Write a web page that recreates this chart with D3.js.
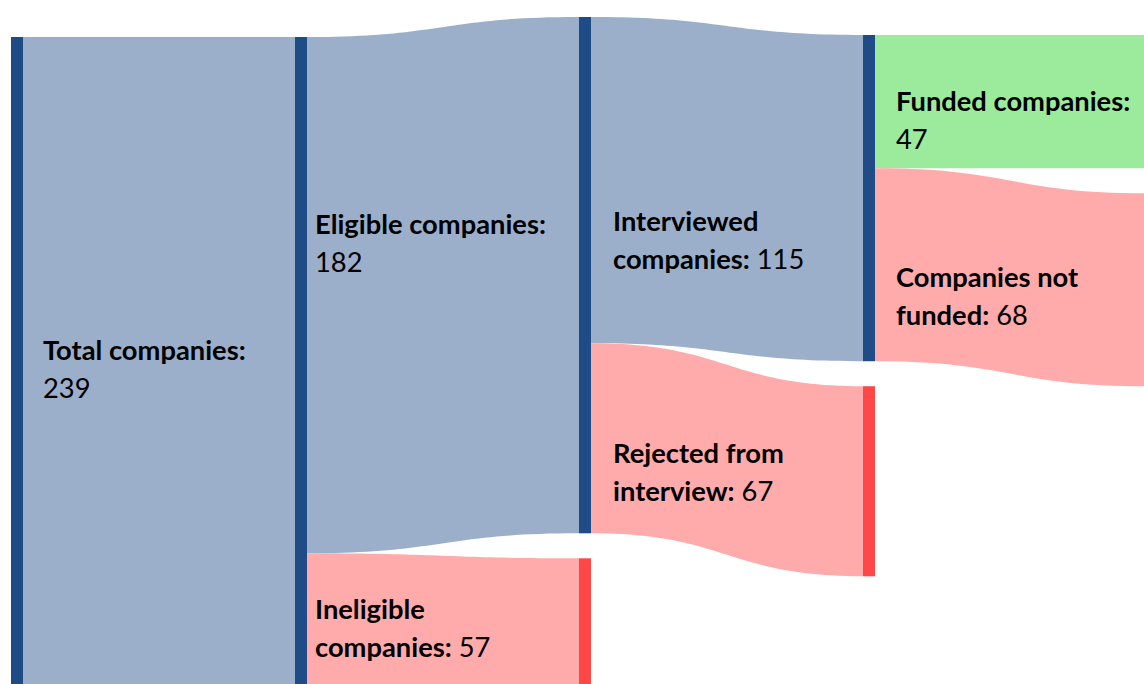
<!DOCTYPE html>
<html>
<head>
<meta charset="utf-8">
<script src="https://cdn.jsdelivr.net/npm/d3@7"></script>
<style>
  html, body { margin: 0; padding: 0; background: #ffffff; }
  svg { display: block; }
  text { font-family: Lato, "Open Sans", sans-serif; fill: #000; }
</style>
</head>
<body>
<svg id="chart" width="1144" height="684"></svg>
<script>
// ---------------- DATA ----------------
const stageLabels  = ["Total companies:\n", "Eligible companies:\n", "Ineligible\ncompanies:",
                      "Interviewed\ncompanies:", "Rejected from\ninterview:",
                      "Funded companies:\n", "Companies not\nfunded:"];
const stageValues  = [239, 182, 57, 115, 67, 47, 68];
const stageParent  = [-1, 0, 0, 1, 1, 3, 3];          // which stage each one flows out of
const stageOutcome = ["pass", "pass", "fail", "pass", "fail", "success", "fail"];

// ---------------- LAYOUT / STYLE ----------------
const W = 1144, H = 684;
const nodeWidth = 12, nodePad = 25;
const columnTop = [37, 37, 17, 35, 35];               // vertical start of each column
const labelPadX = [20, 8, 22, 21];                    // label inset from band start, per column
const labelNudge = [-6, -51, -5, 61, 35, 19, 32];     // label shift from band centre
const lineHeight = 38, fontSize = 27.3;
const bandColor = { pass: "#9bafcb", fail: "#ffabab", success: "#9cea9b" };
const barColor  = { pass: "#1f4b87", fail: "#ff4747", success: "#3cb83c" };

const svg = d3.select("#chart");

// scales
const depth = stageParent.map(function f(p, i) { return p < 0 ? 0 : f(stageParent[p], p) + 1; });
const x = d3.scaleLinear().domain([0, 4]).range([11, 1147]);
const h = d3.scaleLinear().domain([0, d3.max(stageValues)]).range([0, 678]);

// nodes: root node + one end node per stage
const nodes = [{ col: 0, value: stageValues[0], outcome: "pass", out: [] }];
stageValues.forEach((v, i) => nodes.push({ col: depth[i] + 1, value: v, outcome: stageOutcome[i], out: [] }));
// stage i goes from node src(i) to node i+1
const srcNode = stageParent.map(p => p < 0 ? 0 : p + 1);
stageValues.forEach((v, i) => nodes[srcNode[i]].out.push(i));

// stack nodes per column
d3.groups(nodes, d => d.col).forEach(([c, arr]) => {
  let y = columnTop[c];
  arr.forEach(n => { n.y0 = y; n.y1 = y + h(n.value); y = n.y1 + nodePad; });
});
// link offsets inside source nodes
const links = stageValues.map((v, i) => {
  const s = nodes[srcNode[i]], t = nodes[i + 1];
  return { i, value: v, s, t, x0: x(s.col) + nodeWidth, x1: x(t.col) };
});
nodes.forEach(n => {
  let y = n.y0;
  n.out.forEach(i => { links[i].sy0 = y; y += h(links[i].value); links[i].sy1 = y; });
});
links.forEach(l => { l.ty0 = l.t.y0; l.ty1 = l.t.y1; });

function bandPath(l) {
  const p = d3.path(), xm = (l.x0 + l.x1) / 2;
  p.moveTo(l.x0, l.sy0);
  p.bezierCurveTo(xm, l.sy0, xm, l.ty0, l.x1, l.ty0);
  p.lineTo(l.x1, l.ty1);
  p.bezierCurveTo(xm, l.ty1, xm, l.sy1, l.x0, l.sy1);
  p.closePath();
  return p.toString();
}

svg.append("g").selectAll("path").data(links).join("path")
  .attr("d", bandPath)
  .attr("fill", l => bandColor[stageOutcome[l.i]]);

svg.append("g").selectAll("rect").data(nodes).join("rect")
  .attr("x", n => x(n.col))
  .attr("y", n => n.y0)
  .attr("width", nodeWidth)
  .attr("height", n => n.y1 - n.y0)
  .attr("fill", n => barColor[n.outcome]);

// labels
const lbl = svg.append("g").selectAll("text").data(links).join("text")
  .attr("font-size", fontSize)
  .attr("x", l => l.x0 + labelPadX[l.s.col])
  .attr("y", l => (l.sy0 + l.sy1) / 2 - 10 + labelNudge[l.i]);
lbl.each(function (l) {
  const t = d3.select(this);
  const lines = stageLabels[l.i].split("\n");
  const lx = l.x0 + labelPadX[l.s.col];
  lines.forEach((ln, k) => {
    const last = k === lines.length - 1;
    const ts = t.append("tspan").attr("x", lx).attr("dy", k === 0 ? 0 : lineHeight);
    if (ln) ts.append("tspan").attr("font-weight", 700).text(ln);
    if (last) ts.append("tspan").attr("font-weight", 400).text((ln ? " " : "") + stageValues[l.i]);
  });
});
</script>
</body>
</html>
